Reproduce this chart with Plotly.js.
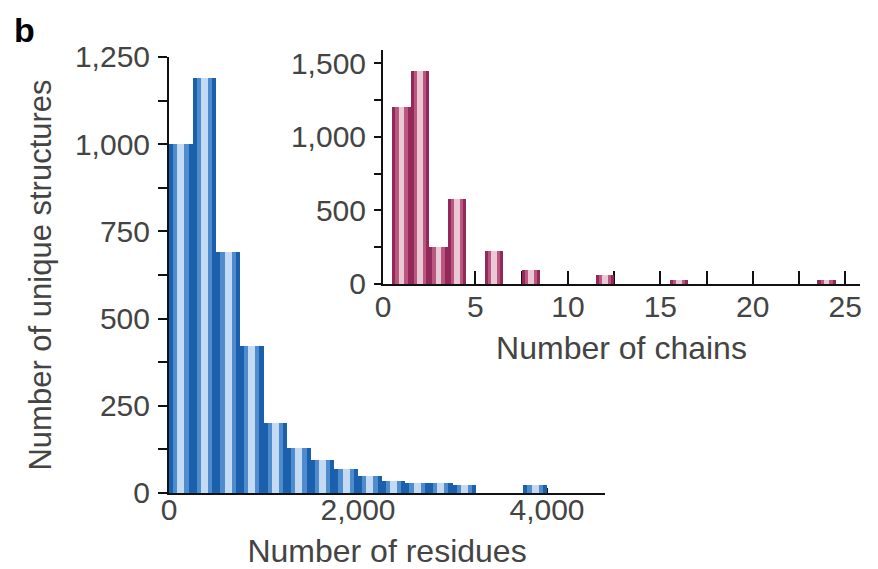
<!DOCTYPE html>
<html>
<head>
<meta charset="utf-8">
<script src="https://cdn.plot.ly/plotly-3.0.1.min.js"></script>
<style>html,body{margin:0;padding:0;background:#fff;}</style>
</head>
<body>
<div id="chart" style="width:878px;height:569px;"></div>
<script>
// Main histogram: number of residues (bin centres, bin width 250)
const residueBins = [125, 375, 625, 875, 1125, 1375, 1625, 1875, 2125, 2375, 2625, 2875, 3125, 3375, 3625, 3875];
const residueCounts = [1000, 1190, 690, 420, 200, 130, 95, 70, 50, 35, 28, 28, 22, 0, 0, 22];
// Inset histogram: number of chains
const chainBins = [1, 2, 3, 4, 6, 8, 12, 16, 24];
const chainCounts = [1200, 1450, 250, 575, 225, 95, 60, 25, 25];

const mainYTicks = [0, 250, 500, 750, 1000, 1250];
const mainYTickText = ['0', '250', '500', '750', '1,000', '1,250'];
const mainXTicks = [0, 2000, 4000];
const mainXTickText = ['0', '2,000', '4,000'];
const insetYTicks = [0, 500, 1000, 1500];
const insetYTickText = ['0', '500', '1,000', '1,500'];
const insetXTicks = [0, 5, 10, 15, 20, 25];

const FONT = 'Liberation Sans, Arial, sans-serif';
const TXT = '#444444';

function stripes(x, y, binW, cols, xa, ya) {
  const fracs = [1.0, 0.66, 0.3];
  return cols.map((c, i) => ({
    type: 'bar', x: x, y: y, xaxis: xa, yaxis: ya,
    width: x.map(() => binW * fracs[i]),
    marker: {color: c, line: {width: 0}},
    hoverinfo: i === 0 ? 'x+y' : 'skip', showlegend: false
  }));
}

const traces = [].concat(
  stripes(residueBins, residueCounts, 250, ['#1a60ad', '#4f8ccd', '#c4daf2'], 'x', 'y'),
  stripes(chainBins, chainCounts, 1, ['#93295a', '#b9577f', '#ebc8d6'], 'x2', 'y2')
);

const axisCommon = {
  showgrid: false, zeroline: false, showline: true, linecolor: '#111', linewidth: 2,
  tickcolor: '#111', tickwidth: 2, layer: 'below traces',
  tickfont: {family: FONT, size: 30, color: TXT}, fixedrange: true
};

const layout = {
  width: 878, height: 569,
  margin: {l: 169, r: 18, t: 50, b: 76},
  paper_bgcolor: '#ffffff', plot_bgcolor: 'rgba(0,0,0,0)',
  barmode: 'overlay', bargap: 0,
  font: {family: FONT, size: 30, color: TXT},
  xaxis: Object.assign({}, axisCommon, {
    domain: [0, 0.631], range: [0, 4614], anchor: 'y',
    tickmode: 'array', tickvals: mainXTicks, ticktext: mainXTickText,
    ticks: 'inside', ticklen: 5, ticklabelstandoff: -11,
    title: {text: 'Number of residues', font: {family: FONT, size: 32, color: TXT}, standoff: 16}
  }),
  yaxis: Object.assign({}, axisCommon, {
    domain: [0, 0.9842], range: [0, 1250], anchor: 'x',
    tickmode: 'array', tickvals: mainYTicks, ticktext: mainYTickText,
    ticks: 'outside', ticklen: 9, ticklabelstandoff: 2,
    minor: {tickvals: [125, 375, 625, 875, 1125], ticks: 'outside', ticklen: 9, tickcolor: '#111', tickwidth: 2},
    title: {text: 'Number of unique structures', font: {family: FONT, size: 31, color: TXT}, standoff: 14}
  }),
  xaxis2: Object.assign({}, axisCommon, {
    domain: [0.3097, 1], range: [0, 25.8], anchor: 'y2',
    tickmode: 'array', tickvals: insetXTicks,
    ticks: 'inside', ticklen: 13, ticklabelstandoff: -5,
    minor: {tickvals: [2.5, 7.5, 12.5, 17.5, 22.5], ticks: 'inside', ticklen: 13, tickcolor: '#111', tickwidth: 2},
    title: {text: 'Number of chains', font: {family: FONT, size: 32, color: TXT}, standoff: 15}
  }),
  yaxis2: Object.assign({}, axisCommon, {
    domain: [0.4718, 1], range: [0, 1590], anchor: 'x2',
    tickmode: 'array', tickvals: insetYTicks, ticktext: insetYTickText,
    ticks: 'outside', ticklen: 7, ticklabelstandoff: 2,
    minor: {tickvals: [250, 750, 1250], ticks: 'outside', ticklen: 7, tickcolor: '#111', tickwidth: 2}
  }),
  annotations: [{
    text: '<b>b</b>', xref: 'paper', yref: 'paper', x: -157/691, y: 1 + 20/443,
    xanchor: 'left', yanchor: 'middle', showarrow: false,
    font: {family: FONT, size: 34, color: '#000'}
  }]
};

Plotly.newPlot('chart', traces, layout, {displayModeBar: false, staticPlot: true});
</script>
</body>
</html>
